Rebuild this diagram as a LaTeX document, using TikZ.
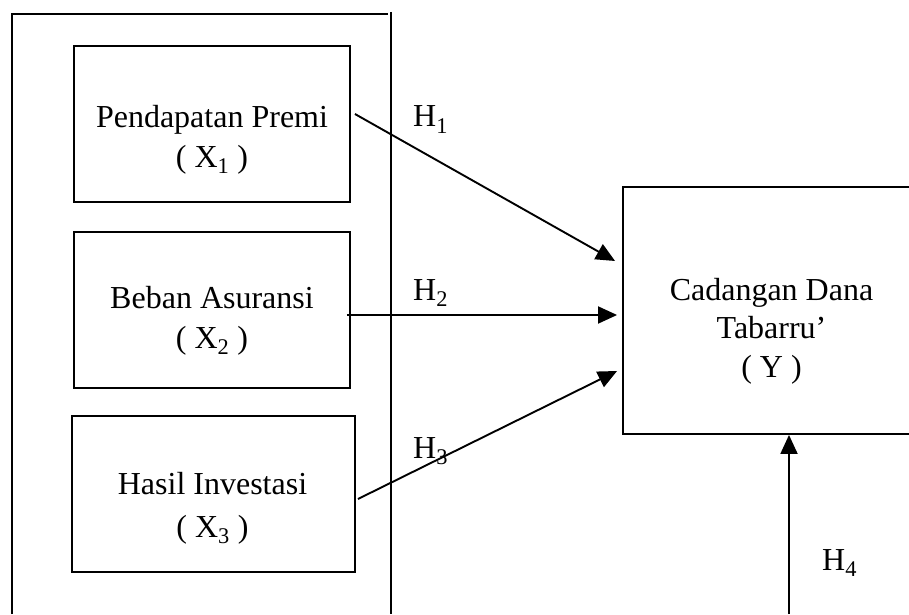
\documentclass[tikz,border=0pt]{standalone}
\usepackage{fontspec}
\setmainfont{Liberation Serif}
\usetikzlibrary{arrows.meta}

\begin{document}
\begin{tikzpicture}[x=1pt,y=1pt,
	kotak/.style={draw,line width=1.9pt,minimum height=156pt,inner sep=0pt},
	teks/.style={align=center,font=\fontsize{32}{40}\selectfont,inner sep=0pt},
	panah/.style={line width=1.9pt,-{Triangle[length=19pt,width=17pt]}}]
	
	\useasboundingbox (0,0) rectangle (909,614);
	\clip (0,0) rectangle (909,614);
	
	\coordinate (a) at (12,0);
	\coordinate (b) at (12,600);
	\coordinate (c) at (388,600);
	\coordinate (d) at (391,602);
	\coordinate (e) at (391,0);
	\draw[line width=1.9pt] (a) -- (b) -- (c);
	\draw[line width=1.9pt] (d) -- (e);
	
	\node[kotak,minimum width=276pt] (premi) at (212,490) {};
	\node[kotak,minimum width=276pt] (beban) at (212,304) {};
	\node[kotak,minimum width=283pt] (hasil) at (213.5,120) {};
	\node[kotak,minimum width=298pt,minimum height=247pt] (cadangan) at (772,303.5) {};
	
	\node[teks] (premitxt) at (212,474) {Pendapatan Premi\\( X\textsubscript{1} )};
	\node[teks] (bebantxt) at (212,293) {Beban Asuransi\\( X\textsubscript{2} )};
	\node[teks,font=\fontsize{32}{43}\selectfont] (hasiltxt) at (212.5,106) {Hasil Investasi\\( X\textsubscript{3} )};
	\node[teks,font=\fontsize{32}{38.5}\selectfont] (cadangantxt) at (771.5,283) {Cadangan Dana\\Tabarru’\\( Y )};
	
	\node[teks,anchor=base west] (h1) at (413,487) {H\textsubscript{1}};
	\node[teks,anchor=base west] (h2) at (413,314) {H\textsubscript{2}};
	\node[teks,anchor=base west] (h3) at (413,156) {H\textsubscript{3}};
	\node[teks,anchor=base west] (h4) at (822,44) {H\textsubscript{4}};
	
	\draw[panah] ([xshift=4pt,yshift=10pt]premi.east) -- ([xshift=-7pt,yshift=49.5pt]cadangan.west);
	\draw[panah] ([xshift=-4pt,yshift=-5pt]beban.east) -- ([xshift=-5pt,yshift=-4.5pt]cadangan.west);
	\draw[panah] ([xshift=2pt,yshift=-5pt]hasil.east) -- ([xshift=-5pt,yshift=-60.5pt]cadangan.west);
	\coordinate (f) at (789,0);
	\draw[panah] (f) -- ([xshift=17pt]cadangan.south);
	
\end{tikzpicture}
\end{document}
